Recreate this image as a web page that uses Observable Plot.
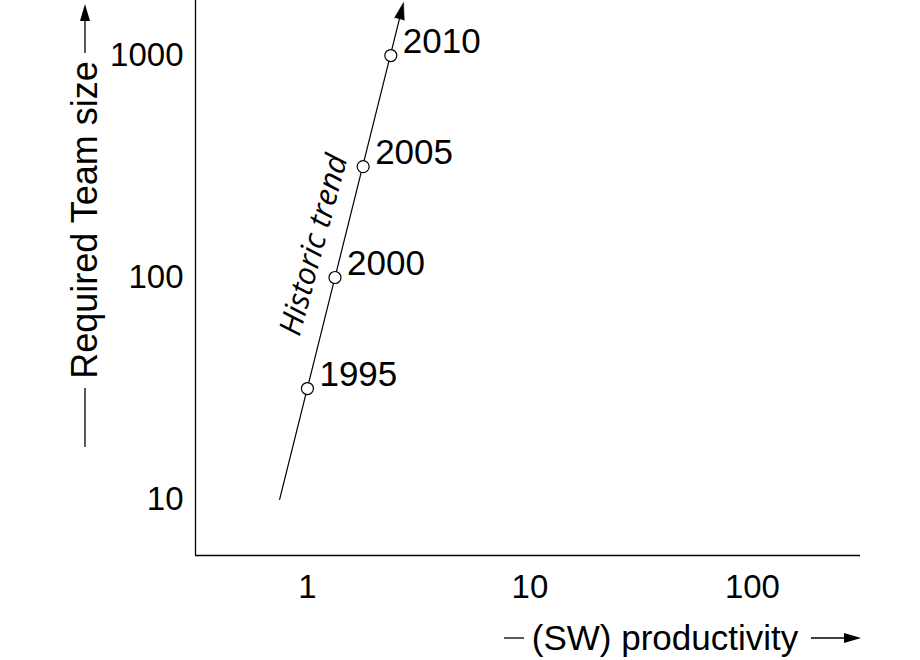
<!DOCTYPE html>
<html>
<head>
<meta charset="utf-8">
<script src="https://cdn.jsdelivr.net/npm/d3@7"></script>
<script src="https://cdn.jsdelivr.net/npm/@observablehq/plot@0.6"></script>
<style>
  html, body { margin: 0; padding: 0; background: #fff; }
  #chart svg { display: block; }
</style>
</head>
<body>
<div id="chart"></div>
<script>
// ---- data ----
const years = ["1995", "2000", "2005", "2010"];
const productivity = [1, 1.33, 1.78, 2.37];
const teamSize = [31.6, 100, 316, 1000];
const trendProductivity = [0.75, 2.59];
const trendTeamSize = [10, 1460];
const xTicks = [1, 10, 100];
const yTicks = [10, 100, 1000];
const xDomain = [0.314, 306];
const yDomain = [5.59, 1770];
const trendLabel = ["Historic trend"];
const trendLabelProductivity = [1.07];
const trendLabelTeamSize = [140];
const xLabel = ["(SW) productivity"];
const yLabel = ["Required Team size"];

// ---- tables built from the arrays ----
const points = years.map((year, i) => ({year, x: productivity[i], y: teamSize[i]}));
const trend = trendProductivity.map((x, i) => ({x, y: trendTeamSize[i]}));
const trendText = trendLabel.map((t, i) => ({t, x: trendLabelProductivity[i], y: trendLabelTeamSize[i]}));

const FONT = "'Liberation Sans', Arial, Helvetica, sans-serif";

const plot = Plot.plot({
  width: 920,
  height: 660,
  marginLeft: 195,
  marginRight: 60,
  marginTop: 0,
  marginBottom: 105,
  style: {fontFamily: FONT, background: "white", color: "black", overflow: "visible"},
  x: {type: "log", domain: xDomain},
  y: {type: "log", domain: yDomain},
  marks: [
    Plot.axisX({ticks: xTicks, tickSize: 0, tickPadding: 19, tickFormat: d => String(d), fontSize: 33, label: null}),
    Plot.axisY({ticks: yTicks, tickSize: 0, tickPadding: 12, tickFormat: d => String(d), fontSize: 33, label: null}),
    Plot.ruleX([xDomain[0]], {stroke: "black", strokeWidth: 1.3}),
    Plot.ruleY([yDomain[0]], {stroke: "black", strokeWidth: 1.3}),
    Plot.line(trend, {x: "x", y: "y", stroke: "black", strokeWidth: 1.2}),
    Plot.vector([trend[trend.length - 1]], {x: "x", y: "y", shape: "spike", anchor: "start", length: 17, r: 5, rotate: 14, fill: "black", stroke: "black", strokeWidth: 0.5}),
    Plot.dot(points, {x: "x", y: "y", r: 6, fill: "white", stroke: "black", strokeWidth: 1.2}),
    Plot.text(points, {x: "x", y: "y", text: "year", textAnchor: "start", lineAnchor: "middle", dx: 12, dy: -14, fontSize: 35, fill: "black"}),
    Plot.text(trendText, {x: "x", y: "y", text: "t", rotate: -75, textAnchor: "middle", lineAnchor: "middle", fontSize: 31, fontStyle: "italic", fontFamily: "'Open Sans', Lato, sans-serif", fill: "black"}),
    Plot.text(yLabel, {frameAnchor: "left", text: d => d, rotate: -90, textAnchor: "middle", lineAnchor: "middle", dx: -110, dy: -58, fontSize: 36, fill: "black"}),
    Plot.text(xLabel, {frameAnchor: "bottom", text: d => d, textAnchor: "middle", lineAnchor: "middle", dx: 137, dy: 83, fontSize: 35, fill: "black"})
  ]
});

document.getElementById("chart").append(plot);

// ---- label decorations (dash + arrow) ----
const svg = d3.select(plot);
const deco = svg.append("g").attr("stroke", "black").attr("fill", "black").attr("stroke-width", 1.3);
// y-axis label
deco.append("line").attr("x1", 85).attr("x2", 85).attr("y1", 447).attr("y2", 388);
deco.append("line").attr("x1", 85).attr("x2", 85).attr("y1", 53).attr("y2", 20);
deco.append("path").attr("stroke", "none").attr("d", "M85,4L80,21L90,21Z");
// x-axis label
deco.append("line").attr("x1", 504).attr("x2", 524).attr("y1", 638).attr("y2", 638);
deco.append("line").attr("x1", 811).attr("x2", 846).attr("y1", 638).attr("y2", 638);
deco.append("path").attr("stroke", "none").attr("d", "M861,638L844,633L844,643Z");
</script>
</body>
</html>
